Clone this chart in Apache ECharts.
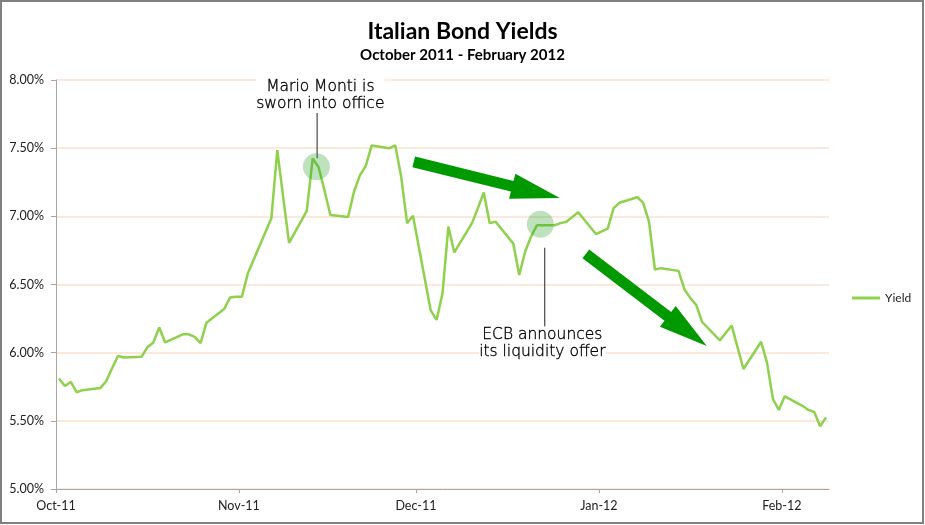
<!DOCTYPE html>
<html><head><meta charset="utf-8">
<script src="https://cdn.jsdelivr.net/npm/echarts@6/dist/echarts.min.js"></script>
<style>html,body{margin:0;padding:0;background:#fff}#c{width:925px;height:525px}</style>
</head><body><div id="c"></div>
<script>
// ---- data ----
const dates = [
 '2011-10-03','2011-10-04','2011-10-05','2011-10-06','2011-10-07','2011-10-10','2011-10-11','2011-10-12','2011-10-13','2011-10-14',
 '2011-10-17','2011-10-18','2011-10-19','2011-10-20','2011-10-21','2011-10-24','2011-10-25','2011-10-26','2011-10-27','2011-10-28','2011-10-31',
 '2011-11-01','2011-11-02','2011-11-03','2011-11-04','2011-11-07','2011-11-08','2011-11-09','2011-11-10','2011-11-11',
 '2011-11-14','2011-11-15','2011-11-16','2011-11-17','2011-11-18','2011-11-21','2011-11-22','2011-11-23','2011-11-24','2011-11-25',
 '2011-11-28','2011-11-29','2011-11-30',
 '2011-12-01','2011-12-02','2011-12-05','2011-12-06','2011-12-07','2011-12-08','2011-12-09','2011-12-12','2011-12-13','2011-12-14',
 '2011-12-15','2011-12-16','2011-12-19','2011-12-20','2011-12-21','2011-12-22','2011-12-23','2011-12-26','2011-12-27','2011-12-28',
 '2011-12-29','2011-12-30',
 '2012-01-02','2012-01-03','2012-01-04','2012-01-05','2012-01-06','2012-01-09','2012-01-10','2012-01-11','2012-01-12','2012-01-13',
 '2012-01-16','2012-01-17','2012-01-18','2012-01-19','2012-01-20','2012-01-23','2012-01-24','2012-01-25','2012-01-26','2012-01-27',
 '2012-01-30','2012-01-31',
 '2012-02-01','2012-02-02','2012-02-03','2012-02-06','2012-02-07','2012-02-08','2012-02-09','2012-02-10'
];
const yields = [
 5.81,5.755,5.785,5.71,5.725,5.74,5.79,5.885,5.975,5.965,
 5.97,6.04,6.075,6.185,6.075,6.135,6.135,6.115,6.07,6.22,6.32,
 6.405,6.41,6.41,6.58,6.885,6.985,7.485,7.14,6.805,
 7.04,7.425,7.36,7.19,7.01,6.995,7.18,7.30,7.37,7.52,
 7.50,7.52,7.29,
 6.95,7.005,6.31,6.24,6.435,6.925,6.735,6.95,7.06,7.175,
 6.95,6.96,6.80,6.57,6.74,6.85,6.935,6.935,6.95,6.96,
 6.995,7.03,
 6.87,6.89,6.91,7.06,7.10,7.14,7.10,6.96,6.61,6.62,
 6.60,6.465,6.40,6.35,6.225,6.09,6.145,6.20,6.04,5.88,
 6.08,5.925,
 5.66,5.58,5.68,5.61,5.58,5.565,5.46,5.525
];
const tickDates = ['2011-10-03','2011-11-03','2011-12-03','2012-01-03','2012-02-03'];
const tickLabels = ['Oct-11','Nov-11','Dec-11','Jan-12','Feb-12'];
const axisStart = '2011-10-03';
const axisEnd = '2012-02-11';
const yMin = 5, yMax = 8, yStep = 0.5;
const seriesName = 'Yield';
const titleText = 'Italian Bond Yields';
const subtitleText = 'October 2011 - February 2012';

// annotations (data coordinates)
const annCircles = [['2011-11-16 03:00', 7.364], ['2011-12-24 02:00', 6.942]];
const annLeaders = [
  [['2011-11-16 06:00', 7.767], ['2011-11-16 06:00', 7.426]],
  [['2011-12-24 20:00', 6.770], ['2011-12-24 20:00', 6.190]]
];
const annTexts = [
  {at: ['2011-11-16 19:00', 7.883], text: 'Mario Monti is\nsworn into office'},
  {at: ['2011-12-24 10:00', 6.068], text: 'ECB announces\nits liquidity offer'}
];
const annArrows = [
  [['2011-12-02 15:00', 7.40], ['2011-12-27 09:00', 7.134]],
  [['2011-12-31 19:00', 6.724], ['2012-01-21 07:00', 6.049]]
];

// ---- chart ----
const ts = s => echarts.number.parseDate(s).getTime();
const tickTs = tickDates.map(ts);
const labelMap = {};
tickTs.forEach((t, i) => { labelMap[t] = tickLabels[i]; });

const chart = echarts.init(document.getElementById('c'), null, {renderer: 'canvas'});
const axisColor = '#a6a6a6';
const labelFont = 'Lato, "Liberation Sans", sans-serif';

chart.setOption({
  backgroundColor: '#ffffff',
  animation: false,
  title: [
    {text: titleText, left: 'center', top: 13,
     textStyle: {fontFamily: labelFont, fontWeight: 'bold', fontSize: 23, color: '#000', lineHeight: 28}},
    {text: subtitleText, left: 'center', top: 41,
     textStyle: {fontFamily: labelFont, fontWeight: 'bold', fontSize: 15, color: '#000', lineHeight: 18}}
  ],
  legend: {
    data: [seriesName], left: 847, top: 287, icon: 'rect', itemWidth: 28, itemHeight: 3,
    selectedMode: false,
    textStyle: {fontFamily: labelFont, fontSize: 12, color: '#222'}
  },
  grid: {left: 56, right: 96, top: 80, bottom: 36, containLabel: false},
  xAxis: {
    type: 'value', min: ts(axisStart), max: ts(axisEnd),
    axisLine: {show: true, lineStyle: {color: axisColor, width: 1}},
    axisTick: {show: true, length: 4, customValues: tickTs, lineStyle: {color: axisColor}},
    axisLabel: {customValues: tickTs, formatter: v => labelMap[v] || '', margin: 10,
      fontFamily: labelFont, fontSize: 12.5, color: '#222'},
    splitLine: {show: false}, minorTick: {show: false}
  },
  yAxis: {
    type: 'value', min: yMin, max: yMax, interval: yStep,
    axisLine: {show: true, lineStyle: {color: axisColor, width: 1}},
    axisTick: {show: true, length: 5, lineStyle: {color: axisColor}},
    axisLabel: {formatter: v => v.toFixed(2) + '%', margin: 12,
      fontFamily: labelFont, fontSize: 12.5, color: '#222'},
    splitLine: {show: true, lineStyle: {color: '#fde2d0', width: 1.5}}
  },
  series: [{
    name: seriesName, type: 'line', showSymbol: false, symbol: 'none',
    data: dates.map((d, i) => [ts(d + ' 12:00'), yields[i]]),
    lineStyle: {color: '#8fd04c', width: 2.5}, itemStyle: {color: '#8fd04c'}, z: 3
  }]
});

function px(p) { return chart.convertToPixel({gridIndex: 0}, [ts(p[0]), p[1]]); }
function arrowPoints(s, t) {
  const dx = t[0] - s[0], dy = t[1] - s[1];
  const L = Math.sqrt(dx * dx + dy * dy);
  const ux = dx / L, uy = dy / L, nx = -uy, ny = ux;
  const hw = 5.5, hh = 13, hl = 49;
  const bx = t[0] - ux * hl, by = t[1] - uy * hl;
  return [
    [s[0] + nx * hw, s[1] + ny * hw], [bx + nx * hw, by + ny * hw], [bx + nx * hh, by + ny * hh],
    [t[0], t[1]],
    [bx - nx * hh, by - ny * hh], [bx - nx * hw, by - ny * hw], [s[0] - nx * hw, s[1] - ny * hw]
  ];
}
const g = [];
g.push({type: 'rect', shape: {x: 1, y: 1, width: 922, height: 522}, style: {fill: null, stroke: '#808080', lineWidth: 2}, z: 200, silent: true});
annLeaders.forEach(l => {
  const a = px(l[0]), b = px(l[1]);
  g.push({type: 'line', shape: {x1: a[0], y1: a[1], x2: b[0], y2: b[1]}, style: {stroke: '#222', lineWidth: 1}, z: 110, silent: true});
});
annCircles.forEach(c => {
  const p = px(c);
  g.push({type: 'circle', shape: {cx: p[0], cy: p[1], r: 13.5}, style: {fill: 'rgba(40,160,40,0.3)'}, z: 120, silent: true});
});
annTexts.forEach(t => {
  const p = px(t.at);
  g.push({type: 'text', x: p[0], y: p[1], z: 130, silent: true,
    style: {text: t.text, align: 'center', verticalAlign: 'middle', fill: '#000',
      font: '200 15.5px "DejaVu Sans", sans-serif', lineHeight: 17, backgroundColor: '#fff',
      stroke: '#000', lineWidth: 0.35}});
});
annArrows.forEach(a => {
  const s = px(a[0]), t = px(a[1]);
  g.push({type: 'polygon', shape: {points: arrowPoints(s, t)}, style: {fill: '#009900'}, z: 140, silent: true});
});
chart.setOption({graphic: g});
</script></body></html>
